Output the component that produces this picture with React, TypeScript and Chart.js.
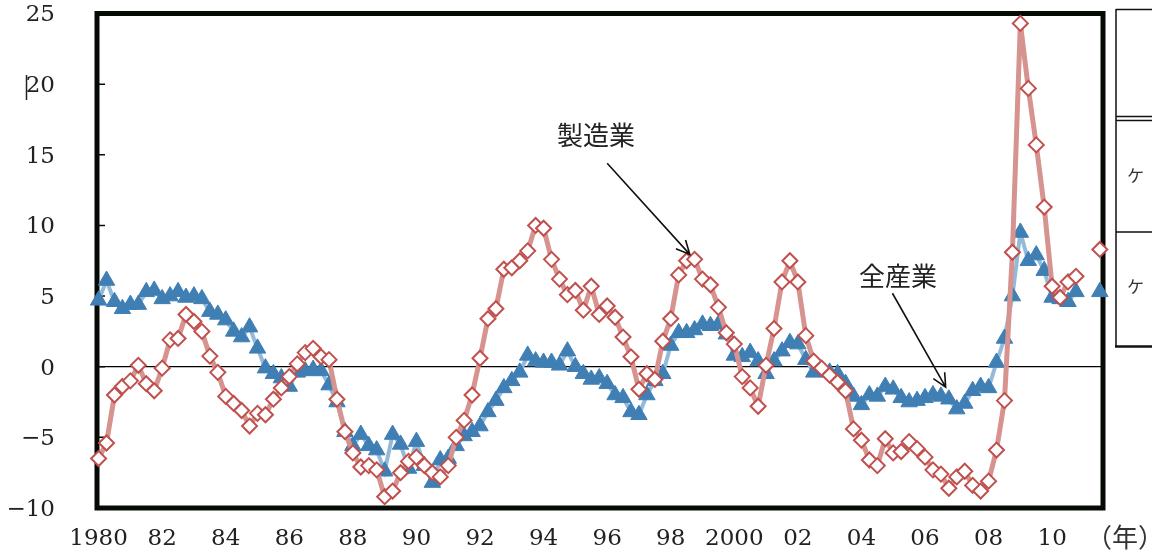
import React, { useEffect, useRef } from "react";
import { Chart, registerables } from "chart.js";

Chart.register(...registerables);

// Quarterly series, 1980 Q1 (index 0) onwards; nulls are missing quarters
const manufacturing: (number | null)[] = [
  -6.5, -5.4, -2.0, -1.4, -1.0, 0.1, -1.2, -1.7, -0.1, 1.9,
  2.0, 3.7, 3.2, 2.5, 0.75, -0.4, -2.1, -2.6, -3.1, -4.2,
  -3.3, -3.4, -2.3, -1.5, -0.7, 0.2, 1.0, 1.3, 0.7, 0.5,
  -2.3, -4.6, -6.1, -7.1, -7.0, -7.3, -9.2, -8.8, -7.5, -6.7,
  -6.4, -7.0, -7.5, -7.8, -7.0, -5.0, -3.8, -2.0, 0.6, 3.4,
  4.1, 6.9, 7.0, 7.5, 8.2, 10.0, 9.8, 7.6, 6.2, 5.1,
  5.4, 4.0, 5.7, 3.7, 4.3, 3.5, 2.1, 0.7, -1.6, -0.5,
  -0.9, 1.8, 3.4, 6.5, 7.5, 7.6, 6.2, 5.8, 4.2, 2.4,
  1.6, -0.7, -1.5, -2.8, 0.1, 2.7, 6.0, 7.5, 6.0, 2.2,
  0.4, -0.1, -0.6, -1.1, -1.7, -4.4, -5.2, -6.6, -7.0, -5.1,
  -6.1, -6.0, -5.3, -5.8, -6.4, -7.3, -7.6, -8.6, -7.8, -7.4,
  -8.4, -8.8, -8.1, -5.9, -2.4, 8.1, 24.3, 19.7, 15.7, 11.3,
  5.7, 4.9, 6.0, 6.4, null, null, 8.3,
];

const allIndustries: (number | null)[] = [
  4.7, 6.1, 4.6, 4.1, 4.4, 4.4, 5.3, 5.4, 4.8, 5.0,
  5.3, 4.9, 5.0, 4.8, 3.9, 3.7, 3.3, 2.5, 2.1, 2.8,
  1.3, -0.1, -0.5, -0.8, -1.4, -0.4, -0.3, -0.2, -0.3, -1.3,
  -2.5, -4.6, -5.6, -4.8, -5.6, -5.9, -7.4, -4.8, -5.5, -7.2,
  -5.3, -7.0, -8.2, -6.6, -6.5, -5.6, -4.9, -4.6, -4.2, -3.2,
  -2.4, -1.5, -1.0, -0.4, 0.8, 0.4, 0.3, 0.3, 0.1, 1.1,
  0.0, -0.5, -0.9, -0.8, -1.2, -2.0, -2.2, -3.2, -3.4, -2.0,
  -1.0, -0.5, 1.5, 2.4, 2.4, 2.6, 3.0, 2.9, 3.0, 2.3,
  0.8, 0.7, 1.0, 0.4, -0.5, 0.4, 1.1, 1.7, 1.6, 0.5,
  -0.4, -0.3, -0.4, -0.5, -1.2, -2.1, -2.7, -2.0, -2.1, -1.4,
  -1.6, -2.2, -2.5, -2.4, -2.2, -2.0, -2.1, -2.3, -3.0, -2.6,
  -1.7, -1.4, -1.5, 0.3, 2.0, 5.0, 9.5, 7.5, 7.9, 6.8,
  4.9, 4.8, 4.6, 5.3, null, null, 5.3,
];

// x tick labels every 8 quarters (2 years)
const yearLabels = ["1980", "82", "84", "86", "88", "90", "92", "94", "96", "98", "2000", "02", "04", "06", "08", "10"];
const yTickValues = [-10, -5, 0, 5, 10, 15, 20, 25];
const seriesNames = ["製造業", "全産業"];
const unitLabel = "（年）";

// annotation positions in data coordinates [quarter index, value]
const mfgLabelAt = [62.6, 16.4];
const mfgArrowFrom = [64.0, 14.4];
const mfgArrowTo = [74.4, 7.95];
const allLabelAt = [100.6, 6.4];
const allArrowFrom = [99.9, 5.2];
const allArrowTo = [106.6, -1.45];

const CJK = '"Noto Sans CJK JP", sans-serif';
const SERIF = '"DejaVu Serif", serif';

function drawArrow(ctx: CanvasRenderingContext2D, x1: number, y1: number, x2: number, y2: number) {
  ctx.save();
  ctx.strokeStyle = "#111";
  ctx.lineWidth = 1.6;
  ctx.beginPath();
  ctx.moveTo(x1, y1);
  ctx.lineTo(x2, y2);
  const ang = Math.atan2(y2 - y1, x2 - x1);
  const len = 15;
  const spread = 0.45;
  ctx.moveTo(x2 - len * Math.cos(ang - spread), y2 - len * Math.sin(ang - spread));
  ctx.lineTo(x2, y2);
  ctx.lineTo(x2 - len * Math.cos(ang + spread), y2 - len * Math.sin(ang + spread));
  ctx.stroke();
  ctx.restore();
}

const framePlugin = {
  id: "frame",
  beforeDatasetsDraw(chart: any) {
    const { ctx, chartArea } = chart;
    const { left, right, top, bottom } = chartArea;
    const ys = chart.scales.y;
    ctx.save();
    ctx.strokeStyle = "#050a05";
    ctx.lineWidth = 5;
    ctx.strokeRect(left, top, right - left, bottom - top);
    ctx.lineWidth = 1.5;
    ctx.beginPath();
    yTickValues.forEach((v) => {
      if (v === -10 || v === 25) return;
      const py = ys.getPixelForValue(v);
      ctx.moveTo(left, py);
      ctx.lineTo(left + 8, py);
    });
    ctx.stroke();
    ctx.restore();
  },
  afterDraw(chart: any) {
    const { ctx } = chart;
    const xs = chart.scales.x;
    const ys = chart.scales.y;
    const P = (p: number[]) => [xs.getPixelForValue(p[0]), ys.getPixelForValue(p[1])];
    ctx.save();
    ctx.fillStyle = "#222";
    ctx.font = `26px ${CJK}`;
    ctx.textAlign = "center";
    ctx.textBaseline = "middle";
    const m = P(mfgLabelAt);
    ctx.fillText(seriesNames[0], m[0], m[1]);
    const a = P(allLabelAt);
    ctx.fillText(seriesNames[1], a[0], a[1]);
    const f1 = P(mfgArrowFrom), t1 = P(mfgArrowTo);
    drawArrow(ctx, f1[0], f1[1], t1[0], t1[1]);
    const f2 = P(allArrowFrom), t2 = P(allArrowTo);
    drawArrow(ctx, f2[0], f2[1], t2[0], t2[1]);

    // unit label
    ctx.textAlign = "left";
    ctx.font = `26px ${CJK}`;
    ctx.fillStyle = "#333";
    ctx.fillText(unitLabel, 1086, 537);

    // partially visible table on the right
    ctx.strokeStyle = "#111";
    ctx.lineWidth = 1.5;
    ctx.beginPath();
    ctx.moveTo(1116, 9);
    ctx.lineTo(1116, 347);
    ctx.moveTo(1116, 9.5);
    ctx.lineTo(1152, 9.5);
    ctx.moveTo(1116, 116.5);
    ctx.lineTo(1152, 116.5);
    ctx.moveTo(1116, 120.5);
    ctx.lineTo(1152, 120.5);
    ctx.moveTo(1116, 232);
    ctx.lineTo(1152, 232);
    ctx.stroke();
    ctx.lineWidth = 2.5;
    ctx.beginPath();
    ctx.moveTo(1115, 346.5);
    ctx.lineTo(1152, 346.5);
    ctx.stroke();
    ctx.font = `17px ${CJK}`;
    ctx.fillStyle = "#333";
    ctx.fillText("ケ", 1127, 176);
    ctx.fillText("ケ", 1127, 287);

    // small caret artifact next to the "20" label
    ctx.lineWidth = 1.5;
    ctx.strokeStyle = "#222";
    ctx.beginPath();
    ctx.moveTo(26.5, 75);
    ctx.lineTo(26.5, 100);
    ctx.stroke();
    ctx.restore();
  },
};

export default function App() {
  const ref = useRef<HTMLCanvasElement | null>(null);
  useEffect(() => {
    if (!ref.current) return;
    const chart = new Chart(ref.current, {
      type: "line",
      data: {
        datasets: [
          {
            label: seriesNames[0],
            data: manufacturing.map((v, i) => ({ x: i, y: v })),
            borderColor: "#D6938F",
            borderWidth: 5,
            pointStyle: "rectRot",
            pointRadius: 7.5,
            pointBackgroundColor: "#ffffff",
            pointBorderColor: "#C0504D",
            pointBorderWidth: 2,
            tension: 0,
            spanGaps: false,
            clip: false,
          } as any,
          {
            label: seriesNames[1],
            data: allIndustries.map((v, i) => ({ x: i, y: v })),
            borderColor: "#93BAD9",
            borderWidth: 4,
            pointStyle: "triangle",
            pointRadius: 9.5,
            pointBackgroundColor: "#3F7FB4",
            pointBorderColor: "#3F7FB4",
            pointBorderWidth: 1,
            tension: 0,
            spanGaps: false,
            clip: false,
          } as any,
        ],
      },
      options: {
        responsive: false,
        devicePixelRatio: 1,
        animation: false,
        layout: { padding: { top: 13.5, right: 49, bottom: 0, left: 0 } },
        plugins: { legend: { display: false }, tooltip: { enabled: false } },
        scales: {
          x: {
            type: "linear",
            min: -0.2,
            max: 126.4,
            afterBuildTicks: (scale: any) => {
              scale.ticks = yearLabels.map((_, k) => ({ value: k * 8 }));
            },
            afterFit: (scale: any) => {
              scale.height = 44;
              scale.paddingLeft = 0;
              scale.paddingRight = 0;
            },
            ticks: {
              autoSkip: false,
              maxRotation: 0,
              padding: 17,
              color: "#222",
              font: { family: SERIF, size: 23 },
              callback: (v: any) => yearLabels[Math.round(Number(v) / 8)] ?? "",
            },
            grid: { display: false, drawTicks: false },
            border: { display: false },
          },
          y: {
            type: "linear",
            min: -10,
            max: 25,
            afterBuildTicks: (scale: any) => {
              scale.ticks = yTickValues.map((v) => ({ value: v }));
            },
            afterFit: (scale: any) => {
              scale.width = 97;
              scale.paddingTop = 0;
              scale.paddingBottom = 0;
            },
            ticks: {
              padding: 42,
              labelOffset: 2,
              color: "#222",
              font: { family: SERIF, size: 23 },
              callback: (v: any) => (Number(v) < 0 ? "\u2212" + Math.abs(Number(v)) : String(v)),
            },
            grid: {
              drawTicks: false,
              lineWidth: 1.3,
              color: (c: any) => (c.tick && c.tick.value === 0 ? "#000" : "rgba(0,0,0,0)"),
            },
            border: { display: false },
          },
        },
      },
      plugins: [framePlugin],
    });
    return () => chart.destroy();
  }, []);
  return (
    <div style={{ position: "fixed", left: 0, top: 0, width: 1152, height: 552, background: "#fff" }}>
      <canvas ref={ref} width={1152} height={552} style={{ width: 1152, height: 552, display: "block" }} />
    </div>
  );
}
